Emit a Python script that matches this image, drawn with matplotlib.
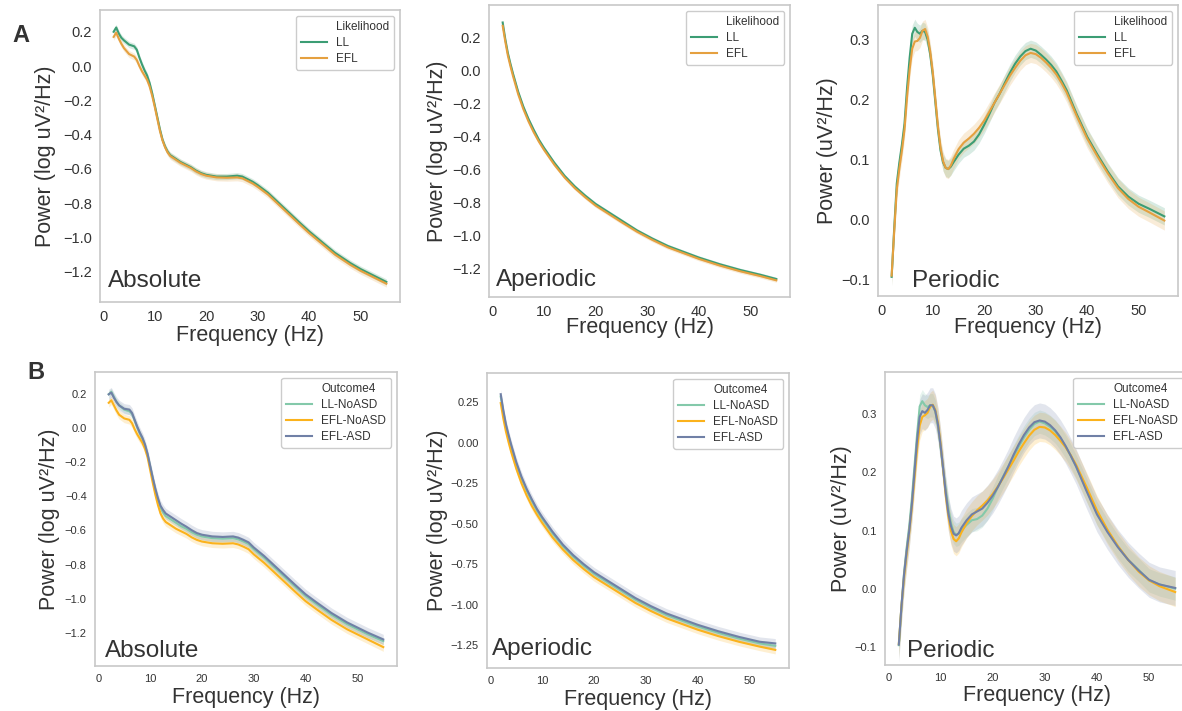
import matplotlib
matplotlib.use("Agg")
import matplotlib.pyplot as plt
from matplotlib.lines import Line2D
import numpy as np

plt.rcParams['font.family'] = ['Liberation Sans', 'DejaVu Sans']

# ---- frequency grids (Hz) ----
freq_abs = [2, 2.5, 3, 3.5, 4, 5, 6, 6.5, 7, 7.5, 8, 8.5, 9, 9.5, 10, 10.5, 11, 11.5,
            12, 12.5, 13, 14, 15, 16, 17, 18, 19, 20, 22, 24, 26, 27, 28, 29, 30, 32,
            35, 38, 40, 42, 45, 48, 50, 52, 55]
freq_ap = [2, 2.5, 3, 3.5, 4, 5, 6, 7, 8, 9, 10, 12, 14, 16, 18, 20, 22, 25, 28, 31,
           34, 37, 40, 44, 48, 52, 55]
freq_per = [2, 2.5, 3, 3.5, 4, 4.5, 5, 5.5, 6, 6.5, 7, 7.5, 8, 8.5, 9, 9.5, 10, 10.5,
            11, 11.5, 12, 12.5, 13, 13.5, 14, 15, 16, 17, 18, 19, 20, 21, 22, 23, 24,
            25, 26, 27, 28, 29, 30, 31, 32, 33, 34, 35, 36, 38, 40, 42, 44, 46, 48,
            50, 52, 55]

# ---- A: likelihood groups ----
a_abs_ll = [0.20, 0.225, 0.19, 0.165, 0.15, 0.125, 0.115, 0.095, 0.05, 0.01, -0.025,
            -0.055, -0.10, -0.16, -0.23, -0.30, -0.37, -0.43, -0.47, -0.50, -0.52,
            -0.54, -0.56, -0.575, -0.59, -0.61, -0.625, -0.635, -0.645, -0.645, -0.64,
            -0.645, -0.66, -0.675, -0.695, -0.74, -0.825, -0.91, -0.965, -1.015,
            -1.09, -1.15, -1.185, -1.215, -1.26]
a_abs_efl = [0.17, 0.195, 0.16, 0.13, 0.105, 0.07, 0.055, 0.035, 0.0, -0.03, -0.055,
             -0.08, -0.12, -0.175, -0.24, -0.31, -0.38, -0.435, -0.475, -0.505, -0.525,
             -0.545, -0.565, -0.58, -0.595, -0.615, -0.63, -0.64, -0.65, -0.652, -0.65,
             -0.655, -0.67, -0.685, -0.705, -0.75, -0.835, -0.92, -0.975, -1.025,
             -1.10, -1.16, -1.195, -1.225, -1.27]

a_ap_ll = [0.29, 0.19, 0.105, 0.04, -0.02, -0.13, -0.22, -0.295, -0.36, -0.42, -0.47,
           -0.56, -0.64, -0.705, -0.76, -0.81, -0.85, -0.91, -0.97, -1.02, -1.065,
           -1.10, -1.135, -1.175, -1.21, -1.24, -1.265]
a_ap_efl = [0.27, 0.175, 0.09, 0.025, -0.035, -0.145, -0.235, -0.31, -0.375, -0.432,
            -0.482, -0.572, -0.65, -0.715, -0.77, -0.82, -0.86, -0.92, -0.978, -1.028,
            -1.073, -1.108, -1.143, -1.183, -1.218, -1.248, -1.273]

a_per_ll = [-0.096, -0.015, 0.06, 0.095, 0.125, 0.16, 0.22, 0.27, 0.31, 0.32, 0.313,
            0.31, 0.315, 0.313, 0.30, 0.275, 0.24, 0.195, 0.15, 0.115, 0.095, 0.086,
            0.084, 0.088, 0.095, 0.108, 0.118, 0.123, 0.13, 0.142, 0.158, 0.176, 0.195,
            0.21, 0.228, 0.245, 0.26, 0.272, 0.281, 0.285, 0.282, 0.275, 0.267, 0.258,
            0.247, 0.232, 0.216, 0.175, 0.138, 0.108, 0.08, 0.055, 0.038, 0.026,
            0.018, 0.005]
a_per_efl = [-0.094, -0.02, 0.05, 0.085, 0.115, 0.15, 0.205, 0.25, 0.285, 0.297, 0.298,
             0.303, 0.315, 0.318, 0.305, 0.28, 0.245, 0.20, 0.155, 0.12, 0.097, 0.086,
             0.084, 0.09, 0.10, 0.117, 0.128, 0.135, 0.143, 0.153, 0.165, 0.18, 0.195,
             0.21, 0.225, 0.24, 0.253, 0.265, 0.274, 0.278, 0.276, 0.27, 0.262, 0.253,
             0.242, 0.228, 0.212, 0.172, 0.135, 0.105, 0.077, 0.052, 0.034, 0.021,
             0.012, -0.002]

# ---- B: outcome groups ----
b_abs_ll_no = [0.20, 0.215, 0.185, 0.155, 0.135, 0.11, 0.10, 0.085, 0.045, 0.005, -0.03,
               -0.06, -0.10, -0.155, -0.225, -0.295, -0.36, -0.42, -0.465, -0.495,
               -0.515, -0.535, -0.555, -0.575, -0.59, -0.61, -0.625, -0.635, -0.645,
               -0.648, -0.645, -0.652, -0.665, -0.68, -0.71, -0.76, -0.845, -0.93,
               -0.985, -1.03, -1.095, -1.15, -1.18, -1.21, -1.25]
b_abs_efl_no = [0.15, 0.165, 0.135, 0.105, 0.08, 0.058, 0.05, 0.03, -0.005, -0.035,
                -0.06, -0.085, -0.12, -0.17, -0.245, -0.32, -0.39, -0.45, -0.50, -0.53,
                -0.55, -0.57, -0.59, -0.605, -0.62, -0.64, -0.655, -0.665, -0.675,
                -0.678, -0.675, -0.682, -0.695, -0.71, -0.74, -0.79, -0.875, -0.96,
                -1.015, -1.06, -1.125, -1.18, -1.21, -1.24, -1.285]
b_abs_efl_asd = [0.20, 0.21, 0.18, 0.155, 0.135, 0.115, 0.11, 0.09, 0.05, 0.01, -0.025,
                 -0.055, -0.095, -0.15, -0.22, -0.29, -0.355, -0.41, -0.455, -0.48,
                 -0.50, -0.52, -0.54, -0.56, -0.578, -0.598, -0.615, -0.625, -0.635,
                 -0.638, -0.635, -0.642, -0.655, -0.67, -0.70, -0.75, -0.835, -0.92,
                 -0.975, -1.02, -1.085, -1.14, -1.17, -1.20, -1.24]

b_ap_ll_no = [0.285, 0.19, 0.105, 0.04, -0.02, -0.13, -0.22, -0.295, -0.36, -0.42,
              -0.47, -0.56, -0.64, -0.705, -0.76, -0.81, -0.85, -0.91, -0.97, -1.02,
              -1.065, -1.10, -1.135, -1.175, -1.21, -1.24, -1.255]
b_ap_efl_no = [0.245, 0.15, 0.07, 0.005, -0.055, -0.16, -0.25, -0.325, -0.39, -0.445,
               -0.495, -0.585, -0.66, -0.725, -0.78, -0.83, -0.87, -0.93, -0.99, -1.04,
               -1.085, -1.12, -1.155, -1.195, -1.23, -1.26, -1.28]
b_ap_efl_asd = [0.30, 0.20, 0.115, 0.05, -0.01, -0.12, -0.21, -0.285, -0.35, -0.41,
                -0.46, -0.55, -0.63, -0.695, -0.75, -0.80, -0.84, -0.90, -0.96, -1.01,
                -1.055, -1.09, -1.125, -1.165, -1.20, -1.23, -1.24]

b_per_ll_no = [-0.096, -0.03, 0.027, 0.07, 0.107, 0.155, 0.21, 0.265, 0.313, 0.322,
               0.315, 0.312, 0.315, 0.315, 0.304, 0.28, 0.244, 0.205, 0.17, 0.138,
               0.113, 0.098, 0.093, 0.095, 0.101, 0.11, 0.118, 0.12, 0.126, 0.138,
               0.155, 0.175, 0.193, 0.21, 0.227, 0.244, 0.26, 0.273, 0.283, 0.287,
               0.284, 0.278, 0.27, 0.258, 0.244, 0.228, 0.21, 0.17, 0.13, 0.10, 0.073,
               0.05, 0.033, 0.015, 0.008, 0.001]
b_per_efl_no = [-0.094, -0.03, 0.02, 0.06, 0.097, 0.14, 0.19, 0.24, 0.28, 0.295, 0.298,
                0.302, 0.312, 0.316, 0.307, 0.285, 0.25, 0.205, 0.16, 0.125, 0.10,
                0.086, 0.082, 0.087, 0.097, 0.113, 0.125, 0.135, 0.143, 0.152, 0.163,
                0.176, 0.19, 0.205, 0.22, 0.236, 0.25, 0.263, 0.273, 0.278, 0.277,
                0.272, 0.264, 0.254, 0.243, 0.229, 0.213, 0.175, 0.135, 0.102, 0.074,
                0.05, 0.03, 0.015, 0.005, -0.005]
b_per_efl_asd = [-0.095, -0.03, 0.025, 0.065, 0.10, 0.145, 0.20, 0.255, 0.295, 0.305,
                 0.302, 0.307, 0.315, 0.315, 0.305, 0.282, 0.247, 0.207, 0.165, 0.13,
                 0.108, 0.095, 0.092, 0.096, 0.105, 0.118, 0.128, 0.133, 0.138, 0.148,
                 0.16, 0.175, 0.192, 0.21, 0.23, 0.248, 0.264, 0.277, 0.286, 0.289,
                 0.287, 0.281, 0.272, 0.26, 0.245, 0.228, 0.21, 0.168, 0.128, 0.098,
                 0.072, 0.05, 0.032, 0.016, 0.008, 0.002]

# confidence band half-widths
ci_a = {'LL': 0.018, 'EFL': 0.02}
ci_b = {'LL-NoASD': 0.02, 'EFL-NoASD': 0.025, 'EFL-ASD': 0.03}

colors_a = {'LL': '#3c9d74', 'EFL': '#e5a03f'}
colors_b = {'LL-NoASD': '#84c9aa', 'EFL-NoASD': '#fbb21c', 'EFL-ASD': '#7080a6'}

ylabel_log = 'Power (log uV²/Hz)'
ylabel_lin = 'Power (uV²/Hz)'

W, H = 1182, 711
fig = plt.figure(figsize=(W / 100, H / 100), dpi=100)
text_col = '#333333'


def add_panel(box, freq, series, colors, cis, legend_title, name, ylabel,
              ylim, yticks, tick_size, ylab_dx, xlab_dy, name_xy, ci_scale=1.0):
    left, top, right, bottom = box
    ax = fig.add_axes([left / W, 1 - bottom / H, (right - left) / W, (bottom - top) / H])
    for label, vals in series.items():
        m = np.asarray(vals)
        ci = cis[label] * ci_scale
        ax.fill_between(freq, m - ci, m + ci, color=colors[label], alpha=0.2, lw=0)
        ax.plot(freq, m, color=colors[label], lw=1.5)
    ax.set_ylim(*ylim)
    ax.set_yticks(yticks)
    ax.set_xticks([0, 10, 20, 30, 40, 50])
    ax.tick_params(length=0, labelsize=tick_size, colors=text_col, pad=6)
    for sp in ax.spines.values():
        sp.set_color('#c8c8c8')
        sp.set_linewidth(1.2)

    ax.set_xlabel('Frequency (Hz)', fontsize=15.5, color=text_col)
    ax.set_ylabel(ylabel, fontsize=15.5, color=text_col)
    w, h = right - left, bottom - top
    ax.yaxis.set_label_coords(ylab_dx / w, 0.5)
    ax.xaxis.set_label_coords(0.5, -xlab_dy / h)
    ax.xaxis.label.set_va('center')
    ax.yaxis.label.set_va('center')

    ax.text(name_xy[0], name_xy[1], name, transform=ax.transAxes, fontsize=17.5,
            color=text_col, va='baseline', ha='left')

    handles = [Line2D([], [], color='none', label=legend_title)]
    handles += [Line2D([], [], color=colors[k], lw=1.5, label=k) for k in series]
    ax.legend(handles=handles, loc='upper right', fontsize=8.5, borderaxespad=0.5,
              frameon=True, edgecolor='0.8', framealpha=1, labelcolor=text_col,
              handlelength=2.2, borderpad=0.4, labelspacing=0.35)
    return ax


ylim_abs = [-1.2, -1.0, -0.8, -0.6, -0.4, -0.2, 0.0, 0.2]
ylim_per = [-0.1, 0.0, 0.1, 0.2, 0.3]

# row A
add_panel((100, 10, 400, 302), freq_abs, {'LL': a_abs_ll, 'EFL': a_abs_efl},
          colors_a, ci_a, 'Likelihood', 'Absolute', ylabel_log,
          (-1.377, 0.327), ylim_abs, 10.5, -55, 33, (0.027, 0.052))
add_panel((489, 5, 790, 297), freq_ap, {'LL': a_ap_ll, 'EFL': a_ap_efl},
          colors_a, ci_a, 'Likelihood', 'Aperiodic', ylabel_log,
          (-1.374, 0.396), ylim_abs, 10.5, -52, 31, (0.022, 0.039), ci_scale=0.6)
add_panel((878, 5, 1178, 296), freq_per, {'LL': a_per_ll, 'EFL': a_per_efl},
          colors_a, ci_a, 'Likelihood', 'Periodic', ylabel_lin,
          (-0.128, 0.358), ylim_per, 10.5, -51, 32, (0.112, 0.030), ci_scale=0.8)

# row B
b_abs = {'LL-NoASD': b_abs_ll_no, 'EFL-NoASD': b_abs_efl_no, 'EFL-ASD': b_abs_efl_asd}
b_ap = {'LL-NoASD': b_ap_ll_no, 'EFL-NoASD': b_ap_efl_no, 'EFL-ASD': b_ap_efl_asd}
b_per = {'LL-NoASD': b_per_ll_no, 'EFL-NoASD': b_per_efl_no, 'EFL-ASD': b_per_efl_asd}

add_panel((95, 372, 397, 666), freq_abs, b_abs, colors_b, ci_b, 'Outcome4', 'Absolute',
          ylabel_log, (-1.396, 0.331), ylim_abs, 8, -45, 31, (0.033, 0.032))
add_panel((487, 373, 789, 668), freq_ap, b_ap, colors_b, ci_b, 'Outcome4', 'Aperiodic',
          ylabel_log, (-1.392, 0.431), [-1.25, -1.0, -0.75, -0.5, -0.25, 0.0, 0.25],
          8, -50, 31, (0.016, 0.044))
add_panel((885, 372, 1189, 665), freq_per, b_per, colors_b, ci_b, 'Outcome4', 'Periodic',
          ylabel_lin, (-0.130, 0.372), ylim_per, 8, -44, 31, (0.073, 0.028))

fig.text(12 / W, 1 - 42 / H, 'A', fontsize=17, fontweight='bold', color='#333333',
         va='baseline')
fig.text(27 / W, 1 - 379 / H, 'B', fontsize=17, fontweight='bold', color='#333333',
         va='baseline')

fig.savefig('out.png', dpi=100)
